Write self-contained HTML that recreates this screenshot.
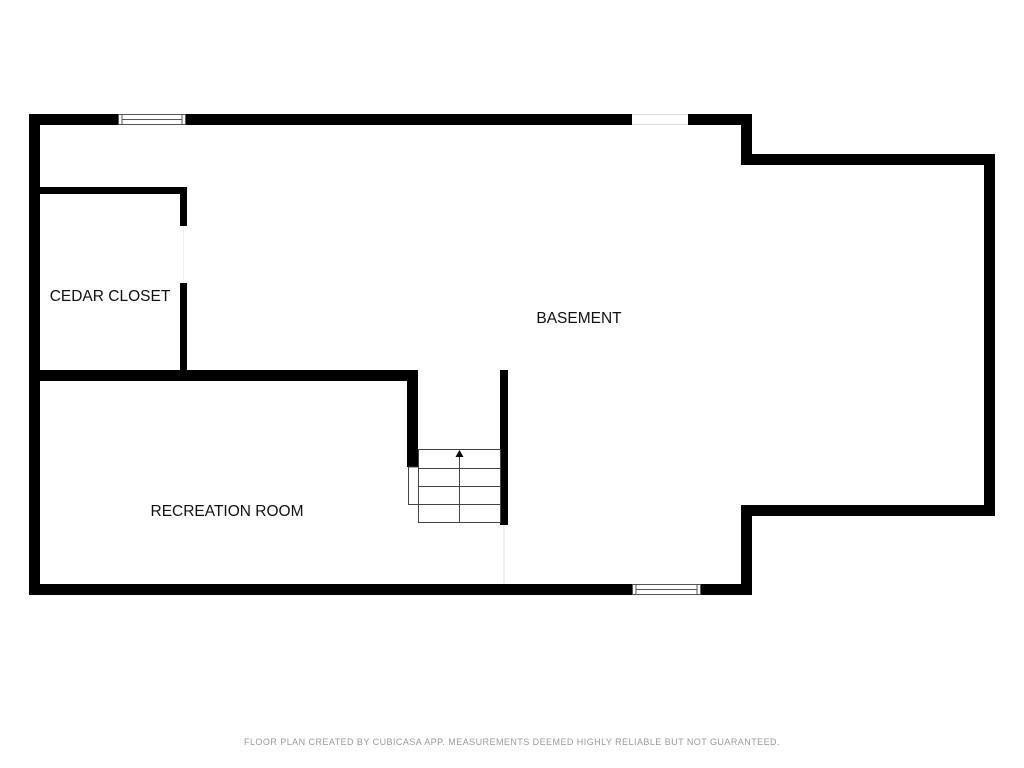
<!DOCTYPE html>
<html><head><style>body{margin:0;background:#fff}svg{display:block}</style></head><body>
<svg width="1024" height="768" xmlns="http://www.w3.org/2000/svg" font-family="Liberation Sans, sans-serif">
<rect width="1024" height="768" fill="#fff"/>
<g fill="#000">
<rect x="29" y="114" width="89" height="11"/>
<rect x="186" y="114" width="446" height="11"/>
<rect x="688" y="114" width="64" height="11"/>
<rect x="741" y="114" width="11" height="51"/>
<rect x="741" y="154" width="254" height="11"/>
<rect x="984" y="154" width="11" height="362"/>
<rect x="741" y="505" width="254" height="11"/>
<rect x="741" y="505" width="11" height="90"/>
<rect x="29" y="584" width="603" height="11"/>
<rect x="701" y="584" width="51" height="11"/>
<rect x="29" y="114" width="11" height="481"/>
<rect x="29" y="187" width="158" height="7"/>
<rect x="180" y="187" width="7" height="39"/>
<rect x="180" y="283" width="7" height="93"/>
<rect x="29" y="370" width="389" height="11"/>
<rect x="407" y="370" width="11" height="97"/>
<rect x="500" y="370" width="8" height="155"/>
</g>
<g fill="#fff" stroke="#555" stroke-width="1">
<rect x="118.5" y="114.5" width="67" height="10"/>
<line x1="122" y1="119.5" x2="182" y2="119.5"/>
<line x1="122" y1="114.5" x2="122" y2="124.5"/>
<line x1="182" y1="114.5" x2="182" y2="124.5"/>
<rect x="632.5" y="584.5" width="68" height="10"/>
<line x1="636" y1="589.5" x2="697" y2="589.5"/>
<line x1="636" y1="584.5" x2="636" y2="594.5"/>
<line x1="697" y1="584.5" x2="697" y2="594.5"/>
</g>
<line x1="632" y1="114.5" x2="688" y2="114.5" stroke="#ddd"/>
<line x1="632" y1="124.5" x2="688" y2="124.5" stroke="#ddd"/>
<line x1="504" y1="525" x2="504" y2="584" stroke="#ddd"/>
<line x1="183.5" y1="226" x2="183.5" y2="283" stroke="#eee"/>
<g stroke="#444" stroke-width="1" fill="none">
<rect x="418.5" y="449.5" width="82" height="73"/>
<line x1="419" y1="468.5" x2="500" y2="468.5"/>
<line x1="419" y1="486.5" x2="500" y2="486.5"/>
<line x1="419" y1="504.5" x2="500" y2="504.5"/>
<line x1="459.5" y1="456" x2="459.5" y2="522"/>
<rect x="408.5" y="467" width="10" height="37.5"/>
</g>
<polygon points="459.5,450 455.5,457 463.5,457" fill="#000"/>
<g font-size="15.5" fill="#111" text-anchor="middle">
<text x="110" y="301">CEDAR CLOSET</text>
<text x="579" y="323">BASEMENT</text>
<text x="227" y="516">RECREATION ROOM</text>
</g>
<text x="512" y="745" font-size="9" fill="#999" text-anchor="middle" letter-spacing="0.45">FLOOR PLAN CREATED BY CUBICASA APP. MEASUREMENTS DEEMED HIGHLY RELIABLE BUT NOT GUARANTEED.</text>
</svg>
</body></html>
